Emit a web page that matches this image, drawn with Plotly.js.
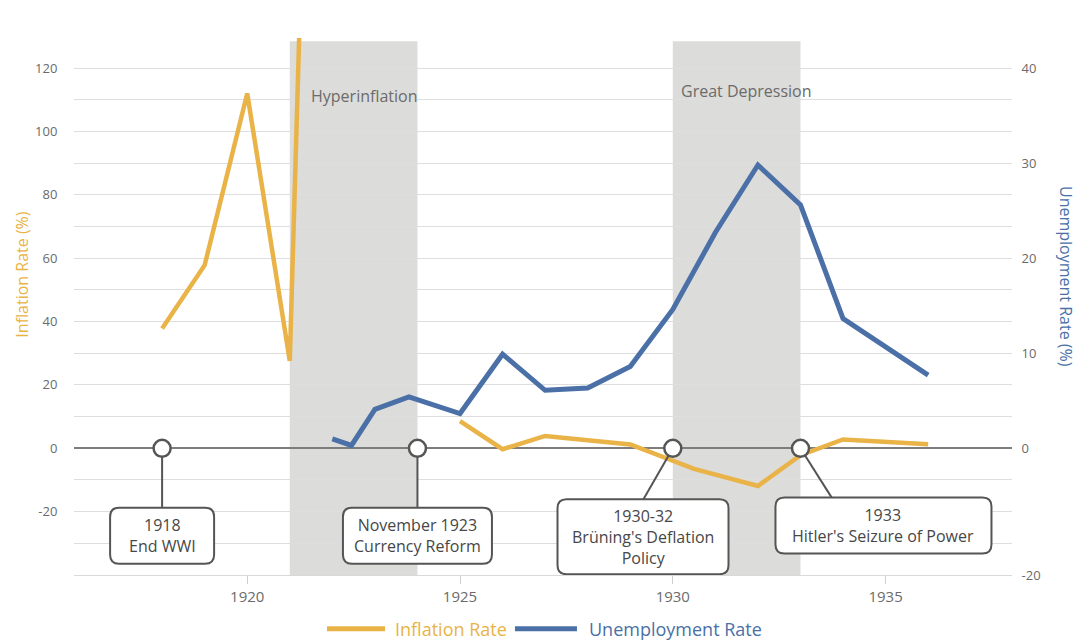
<!DOCTYPE html>
<html>
<head>
<meta charset="utf-8">
<script src="https://cdn.plot.ly/plotly-3.0.1.min.js"></script>
<style>
html,body{margin:0;padding:0;background:#fff;}
#chart{width:1079px;height:643px;}
</style>
</head>
<body>
<div id="chart"></div>
<script>
// ---- data ----
const inflationYears = [1918, 1919, 1920, 1921, 1922, 1923, 1924, 1925, 1926, 1927, 1929, 1930.5, 1932, 1933, 1934, 1936];
const inflationRate  = [37.8, 57.8, 112, 27.6, 490, null, null, 8.6, -0.3, 3.9, 1.2, -6.5, -11.9, -2.2, 2.8, 1.3];

const unemploymentYears = [1922, 1922.45, 1923, 1923.8, 1925, 1926, 1927, 1928, 1929, 1930, 1931, 1932, 1933, 1934, 1936];
const unemploymentRate  = [1.0, 0.3, 4.1, 5.4, 3.65, 9.9, 6.1, 6.35, 8.6, 14.6, 22.7, 29.8, 25.6, 13.65, 7.7];

const periodLabels = ["Hyperinflation", "Great Depression"];
const periodStart  = [1921, 1930];
const periodEnd    = [1924, 1933];

const eventYears  = [1918, 1924, 1930, 1933];
const eventLabels = ["1918<br>End WWI", "November 1923<br>Currency Reform", "1930-32<br>Brüning's Deflation<br>Policy", "1933<br>Hitler's Seizure of Power"];

const xTickVals = [1920, 1925, 1930, 1935];
const yTickVals = [-20, 0, 20, 40, 60, 80, 100, 120];
const yTickText = ["-20", "0", "20", "40", "60", "80", "100", "120"];
const y2TickText = ["-20", "0", "10", "20", "30", "40"];

// ---- layout helpers (positions / styles) ----
const FONT = "Open Sans, Noto Sans, sans-serif";
const ORANGE = "#E9B347";
const BLUE = "#4A70A7";
const GRAY_TXT = "#6b6b6b";
const BOX_LINE = "#555555";
const Y_MIN = -40, Y_MAX = 129.5;

const boxCx = [1918, 1924, 1929.3, 1934.95];
const boxCy = [-27.6, -27.6, -27.9, -24.4];
const boxW  = [104, 149, 171, 216];
const boxH  = [56, 56, 75, 56];
const connEndX = [1918, 1924, 1929.31, 1933.73];
const connEndY = [-18.6, -18.6, -16.1, -15.5];
const periodLabelX = [1921.44, 1930.15];
const periodLabelY = [111.3, 112.8];
const LEGEND_Y = -0.1;

function roundRect(w, h, r) {
  const a = w / 2, b = h / 2;
  return `M ${-a + r},${-b} L ${a - r},${-b} Q ${a},${-b} ${a},${-b + r} L ${a},${b - r} Q ${a},${b} ${a - r},${b} L ${-a + r},${b} Q ${-a},${b} ${-a},${b - r} L ${-a},${-b + r} Q ${-a},${-b} ${-a + r},${-b} Z`;
}

const traces = [];
traces.push({
  x: inflationYears, y: inflationRate, type: "scatter", mode: "lines",
  name: "Inflation Rate", connectgaps: false,
  line: {color: ORANGE, width: 4.5}, yaxis: "y", showlegend: false, hoverinfo: "x+y"
});
traces.push({
  x: unemploymentYears, y: unemploymentRate, type: "scatter", mode: "lines",
  name: "Unemployment Rate",
  line: {color: BLUE, width: 5}, yaxis: "y2", showlegend: false, hoverinfo: "x+y"
});
for (let i = 0; i < eventYears.length; i++) {
  traces.push({
    x: [eventYears[i], connEndX[i]], y: [0, connEndY[i]], type: "scatter", mode: "lines",
    line: {color: BOX_LINE, width: 2}, showlegend: false, hoverinfo: "skip", cliponaxis: false
  });
}
traces.push({
  x: eventYears, y: eventYears.map(() => 0), type: "scatter", mode: "markers",
  marker: {size: 17, color: "#ffffff", line: {color: BOX_LINE, width: 2.5}},
  showlegend: false, hoverinfo: "x", cliponaxis: false
});

const shapes = [];
for (let i = 0; i < periodStart.length; i++) {
  shapes.push({
    type: "rect", xref: "x", yref: "y", x0: periodStart[i], x1: periodEnd[i], y0: Y_MIN, y1: 128.5,
    fillcolor: "#dcdcda", line: {width: 0}, layer: "below"
  });
}
for (let i = 0; i < eventYears.length; i++) {
  shapes.push({
    type: "path", xref: "x", yref: "y",
    xsizemode: "pixel", ysizemode: "pixel", xanchor: boxCx[i], yanchor: boxCy[i],
    path: roundRect(boxW[i], boxH[i], 9),
    fillcolor: "#ffffff", line: {color: BOX_LINE, width: 2}, layer: "above"
  });
}
shapes.push({type: "line", xref: "paper", yref: "paper", x0: 0.2697, x1: 0.3316, y0: LEGEND_Y, y1: LEGEND_Y, line: {color: ORANGE, width: 5}});
shapes.push({type: "line", xref: "paper", yref: "paper", x0: 0.4701, x1: 0.5362, y0: LEGEND_Y, y1: LEGEND_Y, line: {color: BLUE, width: 5}});

const annotations = [];
for (let i = 0; i < periodLabels.length; i++) {
  annotations.push({
    x: periodLabelX[i], y: periodLabelY[i], xref: "x", yref: "y", text: periodLabels[i],
    showarrow: false, xanchor: "left", yanchor: "middle",
    font: {family: FONT, size: 16, color: GRAY_TXT}
  });
}
for (let i = 0; i < eventYears.length; i++) {
  annotations.push({
    x: boxCx[i], y: boxCy[i], xref: "x", yref: "y", text: eventLabels[i],
    showarrow: false, xanchor: "center", yanchor: "middle", align: "center",
    font: {family: FONT, size: 16, color: "#474747"}
  });
}
annotations.push({
  x: -0.0558, y: 0.5587, xref: "paper", yref: "paper", text: "Inflation Rate (%)", textangle: -90,
  showarrow: false, xanchor: "center", yanchor: "middle", font: {family: FONT, size: 16, color: ORANGE}
});
annotations.push({
  x: 1.0576, y: 0.5568, xref: "paper", yref: "paper", text: "Unemployment Rate (%)", textangle: 90,
  showarrow: false, xanchor: "center", yanchor: "middle", font: {family: FONT, size: 16, color: BLUE}
});
annotations.push({
  x: 0.3401, y: LEGEND_Y, xref: "paper", yref: "paper", text: "Inflation Rate",
  showarrow: false, xanchor: "left", yanchor: "middle", font: {family: FONT, size: 18, color: ORANGE}
});
annotations.push({
  x: 0.5469, y: LEGEND_Y, xref: "paper", yref: "paper", text: "Unemployment Rate",
  showarrow: false, xanchor: "left", yanchor: "middle", font: {family: FONT, size: 18, color: BLUE}
});

const layout = {
  width: 1079, height: 643,
  margin: {l: 74, r: 67, t: 38, b: 68, pad: 0},
  paper_bgcolor: "#ffffff", plot_bgcolor: "#ffffff",
  font: {family: FONT, color: GRAY_TXT},
  showlegend: false,
  xaxis: {
    range: [1915.93, 1937.97], tickvals: xTickVals, showgrid: false, zeroline: false,
    showline: true, linecolor: "#d9d9d9", linewidth: 1,
    ticks: "outside", ticklen: 8, tickcolor: "#cfcfcf", tickwidth: 1,
    tickfont: {family: FONT, size: 15, color: GRAY_TXT}
  },
  yaxis: {
    range: [Y_MIN, Y_MAX], tickvals: yTickVals, ticktext: yTickText,
    showgrid: true, gridcolor: "#dedede", gridwidth: 1,
    minor: {tick0: 0, dtick: 10, showgrid: true, gridcolor: "#dedede", gridwidth: 1},
    zeroline: true, zerolinecolor: "#7d7d7d", zerolinewidth: 2,
    ticks: "outside", ticklen: 13, tickcolor: "rgba(0,0,0,0)",
    tickfont: {family: FONT, size: 13, color: GRAY_TXT}
  },
  yaxis2: {
    overlaying: "y", side: "right", range: [Y_MIN / 3, Y_MAX / 3],
    tickvals: [Y_MIN / 3, 0, 10, 20, 30, 40], ticktext: y2TickText,
    showgrid: false, zeroline: false,
    ticks: "outside", ticklen: 6, tickcolor: "rgba(0,0,0,0)",
    tickfont: {family: FONT, size: 13, color: GRAY_TXT}
  },
  shapes: shapes,
  annotations: annotations
};

Plotly.newPlot("chart", traces, layout, {displayModeBar: false, staticPlot: true});
</script>
</body>
</html>
